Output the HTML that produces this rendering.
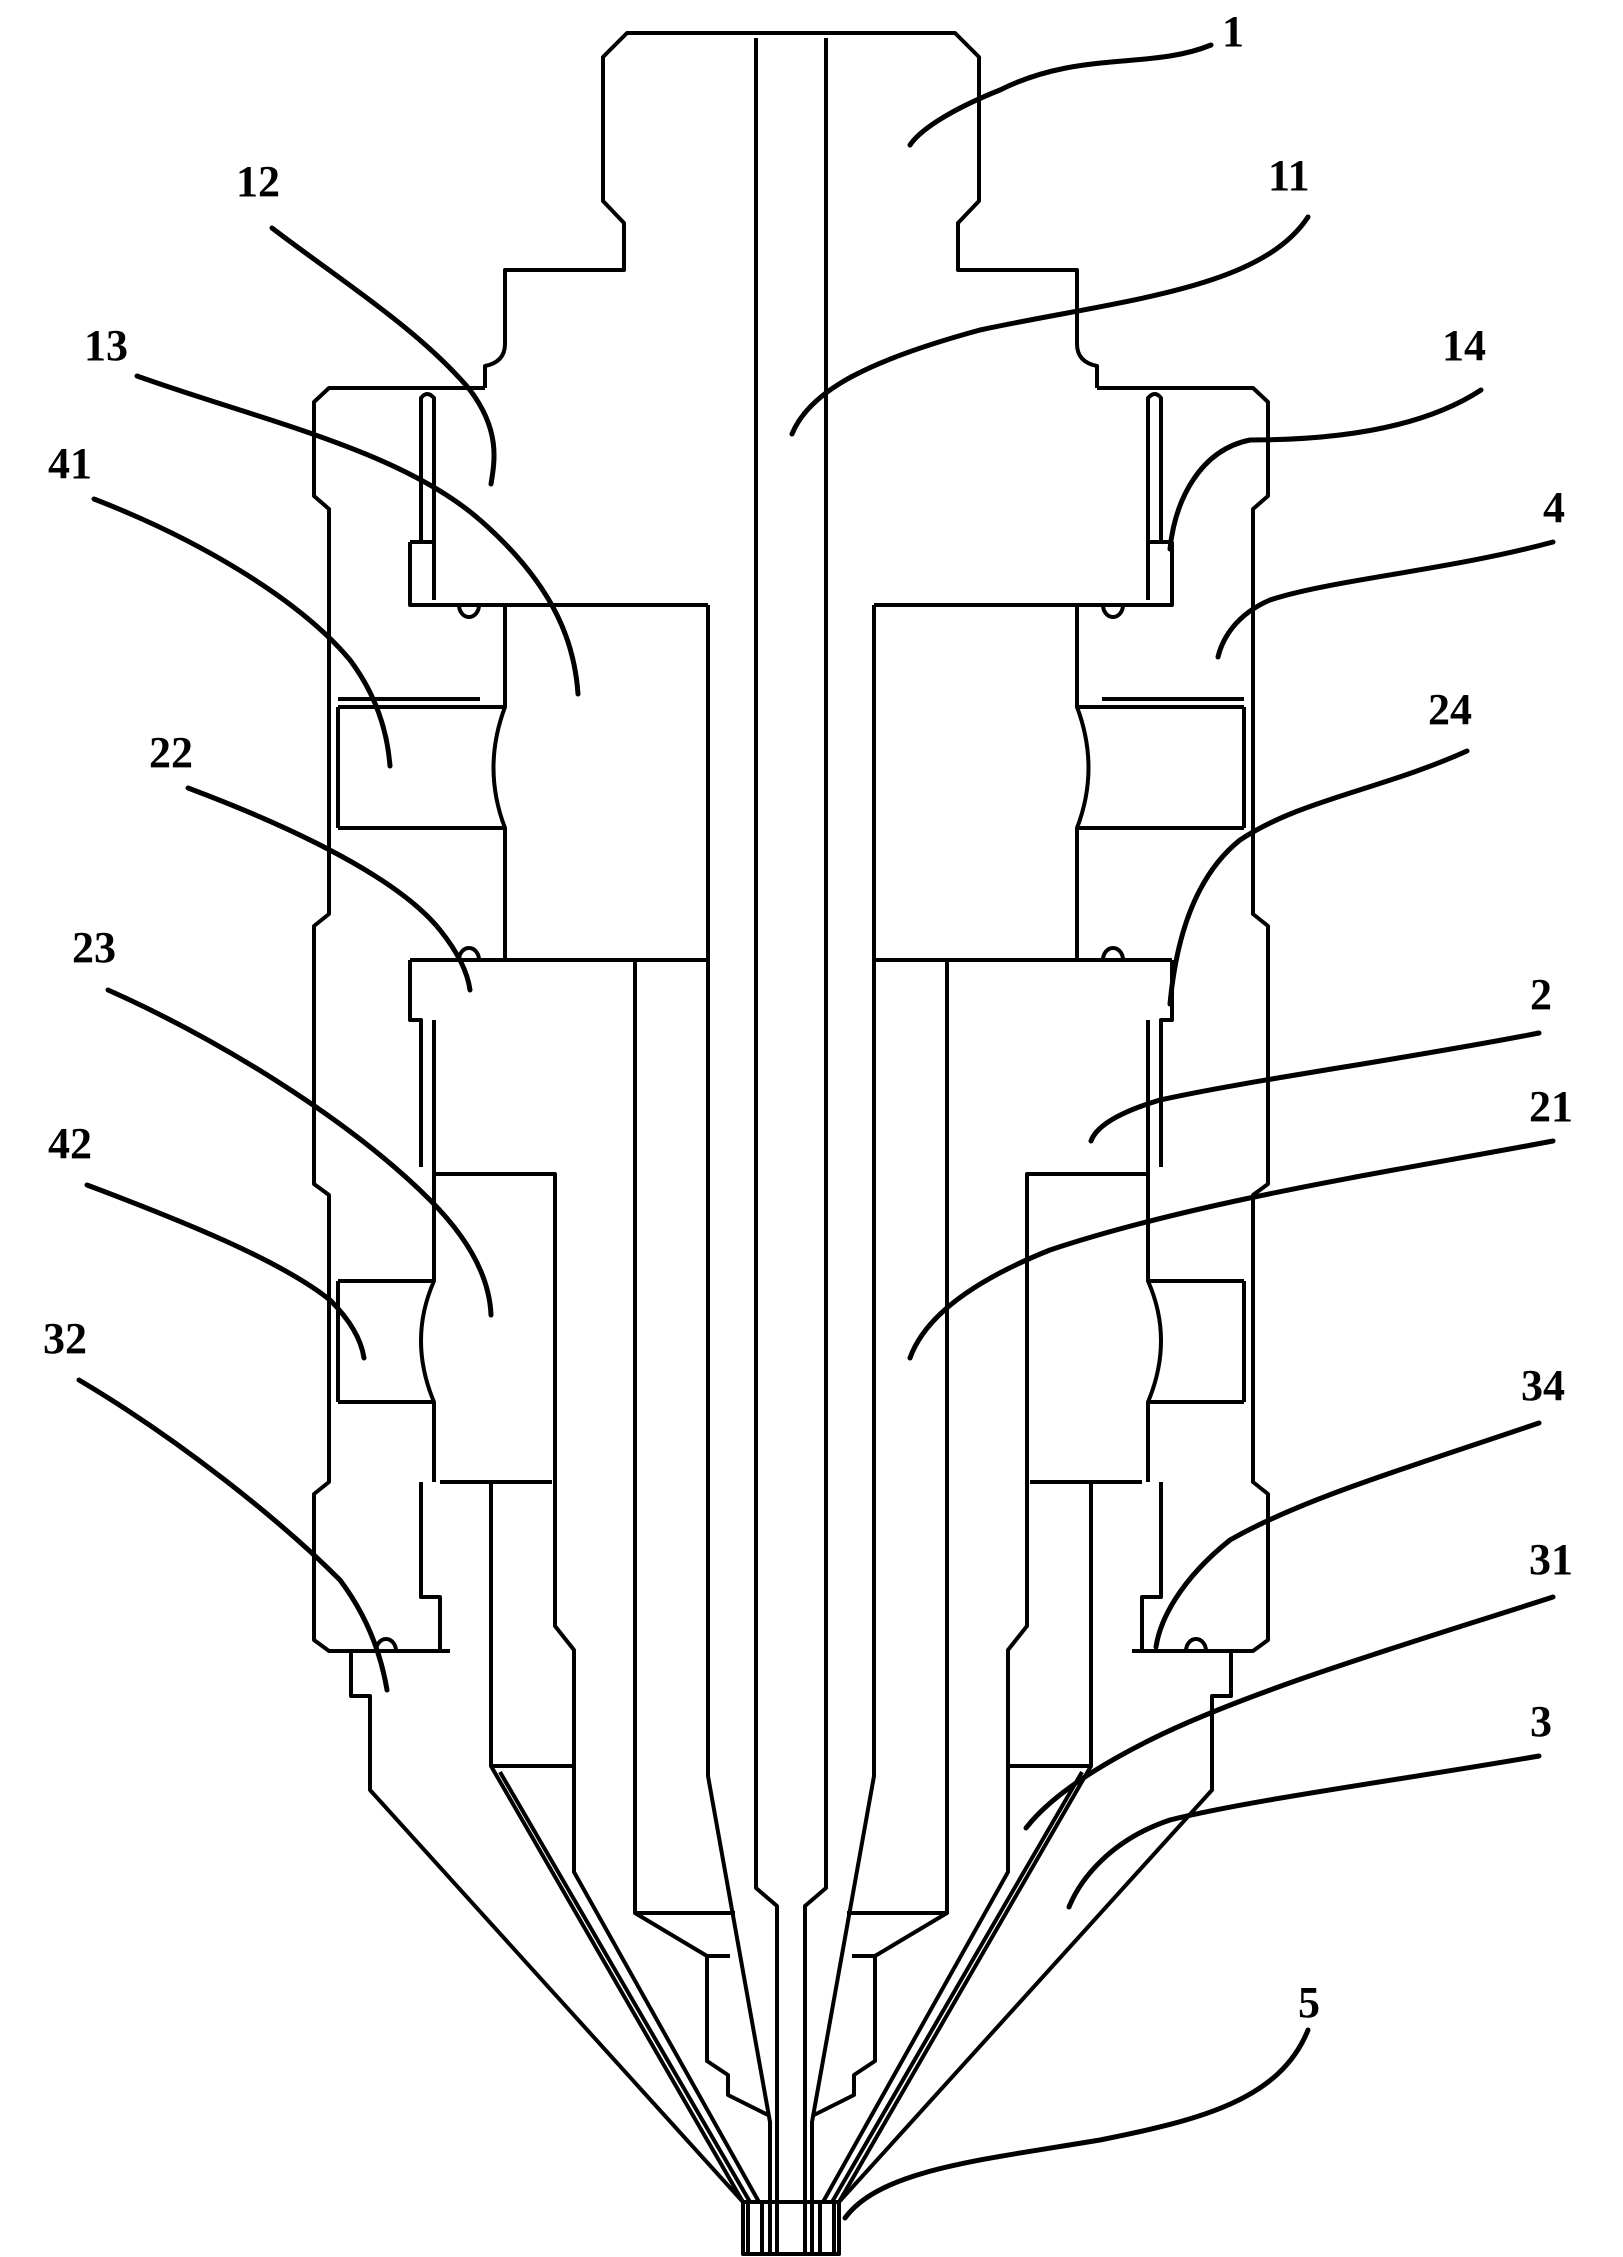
<!DOCTYPE html>
<html><head><meta charset="utf-8"><style>
html,body{margin:0;padding:0;background:#fff;}
svg{display:block;}
text{font-family:"Liberation Serif",serif;font-weight:bold;font-size:44px;fill:#000;}
</style></head><body>
<svg width="1623" height="2257" viewBox="0 0 1623 2257" xmlns="http://www.w3.org/2000/svg">
<defs>
<g id="half" fill="none" stroke="#000" stroke-width="4" stroke-linejoin="round">
  <path d="M791,33 L627,33 L603,57 L603,201 L624,223 L624,270 L505,270 L505,344 Q505,362 485,366 L485,388"/>
  <path d="M485,388 L329,388 L314,402 L314,496 L329,509 L329,914 L314,926 L314,1184 L329,1195 L329,1482 L314,1494 L314,1640 L329,1651 L450,1651"/>
  <path d="M421,542 L421,398 Q427,390 434,398 L434,600"/>
  <path d="M410,542 L410,605 L708,605 M410,542 L434,542"/>
  <path d="M459,605 A10,12 0 0 0 479,605"/>
  <path d="M505,605 L505,707 Q482,768 505,828 L505,960"/>
  <path d="M708,605 L708,1776 L770,2122 L770,2254"/>
  <path d="M338,707 L505,707 M338,828 L505,828 M338,707 L338,828 M338,699 L480,699" />
  <path d="M459,960 A10,12 0 0 1 479,960"/>
  <path d="M410,960 L708,960 M410,960 L410,1020 L421,1020 L421,1167"/>
  <path d="M434,1020 L434,1174 L555,1174 L555,1626 L574,1650 L574,1872 L759,2202"/>
  <path d="M434,1174 L434,1281 Q408,1340 434,1402 L434,1482"/>
  <path d="M338,1281 L434,1281 M338,1402 L434,1402 M338,1281 L338,1402"/>
  <path d="M635,960 L635,1913 L707,1956 M635,1913 L735,1913 M707,1956 L730,1956"/>
  <path d="M707,1956 L707,2061 L728,2075 L728,2095 L768,2115"/>
  <path d="M440,1482 L552,1482 M491,1482 L491,1766 L574,1766"/>
  <path d="M491,1766 L743,2202 M500,1772 L750,2202"/>
  <path d="M421,1482 L421,1597 L440,1597 L440,1651"/>
  <path d="M351,1651 L351,1696 L370,1696 L370,1790 L743,2202 L743,2254 L791,2254"/>
  <path d="M376,1651 A10,12 0 0 1 396,1651"/>
  <path d="M748,2202 L748,2254 M762,2202 L762,2254 M743,2202 L791,2202"/>
  <path d="M756,38 L756,1888 L777,1906 L777,2254"/>
</g>
</defs>
<rect width="1623" height="2257" fill="#fff"/>
<use href="#half"/>
<use href="#half" transform="matrix(-1 0 0 1 1582 0)"/>
<g fill="none" stroke="#000" stroke-width="5" stroke-linecap="round">
  <path d="M1211,45 C1150,70 1080,50 1000,90 C950,110 920,130 910,145"/>
  <path d="M1308,217 C1260,290 1120,300 980,330 C870,360 810,390 792,434"/>
  <path d="M272,228 C340,280 420,330 470,390 C500,430 495,460 491,484"/>
  <path d="M137,376 C260,420 400,450 480,520 C560,590 575,650 578,694"/>
  <path d="M1481,390 C1420,430 1330,440 1250,440 C1200,450 1175,500 1170,549"/>
  <path d="M94,499 C200,540 300,600 350,660 C380,700 388,740 390,766"/>
  <path d="M1553,542 C1450,570 1330,580 1270,600 C1235,615 1222,640 1218,657"/>
  <path d="M188,788 C300,830 400,880 440,930 C460,955 468,975 470,990"/>
  <path d="M1467,751 C1380,790 1300,800 1240,840 C1190,880 1175,950 1170,1004"/>
  <path d="M108,990 C220,1040 350,1120 430,1200 C480,1250 490,1290 491,1315"/>
  <path d="M1539,1033 C1400,1060 1250,1080 1160,1100 C1110,1115 1095,1130 1091,1141"/>
  <path d="M1553,1141 C1400,1170 1200,1200 1050,1250 C950,1290 920,1330 910,1358"/>
  <path d="M87,1185 C180,1220 280,1260 330,1300 C355,1325 362,1345 364,1358"/>
  <path d="M79,1380 C180,1440 280,1520 340,1580 C370,1620 382,1660 387,1690"/>
  <path d="M1539,1423 C1400,1470 1300,1500 1230,1540 C1180,1580 1160,1620 1156,1647"/>
  <path d="M1553,1597 C1420,1640 1250,1690 1150,1740 C1070,1780 1040,1810 1026,1828"/>
  <path d="M1539,1756 C1400,1780 1250,1800 1170,1820 C1110,1840 1080,1880 1069,1907"/>
  <path d="M1308,2030 C1280,2100 1200,2120 1100,2140 C980,2160 880,2170 845,2218"/>
</g>
<text x="1222" y="46">1</text>
<text x="1268" y="190">11</text>
<text x="236" y="196">12</text>
<text x="84" y="360">13</text>
<text x="1442" y="360">14</text>
<text x="48" y="478">41</text>
<text x="1543" y="522">4</text>
<text x="149" y="767">22</text>
<text x="1428" y="724">24</text>
<text x="72" y="962">23</text>
<text x="1530" y="1009">2</text>
<text x="1529" y="1121">21</text>
<text x="48" y="1158">42</text>
<text x="43" y="1353">32</text>
<text x="1521" y="1400">34</text>
<text x="1529" y="1574">31</text>
<text x="1530" y="1736">3</text>
<text x="1298" y="2017">5</text>
</svg>
</body></html>
